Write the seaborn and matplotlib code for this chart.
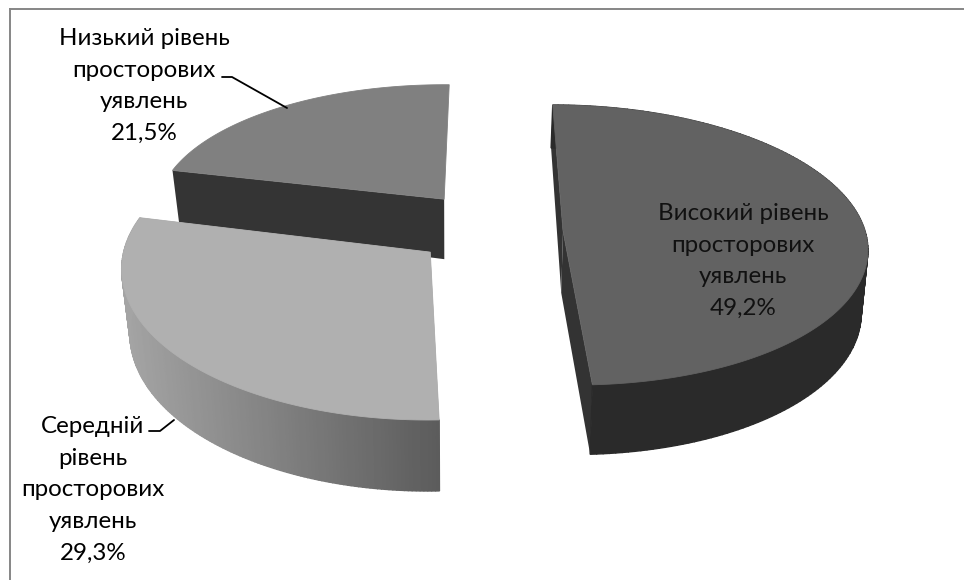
import numpy as np
import matplotlib
matplotlib.use("Agg")
import matplotlib.pyplot as plt
import seaborn as sns

# ---- data ----
categories = ["Високий рівень\nпросторових\nуявлень",
              "Середній\nрівень\nпросторових\nуявлень",
              "Низький рівень\nпросторових\nуявлень"]
values = [49.2, 29.3, 21.5]
value_labels = ["49,2%", "29,3%", "21,5%"]

# ---- styling ----
top_colors = ["#626262", "#b0b0b0", "#808080"]
cut_colors = ["#333333", "#8a8a8a", "#343434"]
wall_ramps = [["#2a2a2a", "#2a2a2a"], ["#a4a4a4", "#5c5c5c"], ["#333333", "#333333"]]
offsets = [(0.378, 0.0), (-0.065, -0.15), (-0.02, 0.235)]
radii_u = [1.01, 1.01, 0.978]
radii_v = [1.0, 1.05, 0.945]
rotations = [0.0, 1.0, 1.0]
lower_scale = [0.016, 0.025, 0.025]
cut_faces = [(0, -1), (0, -1), (0,)]
label_pos = [(743, 261), (93, 490), (144, 86)]
label_colors = ["#111111", "#000000", "#000000"]

sns.set_theme(style="white")
plt.rcParams["font.family"] = ["Lato", "Open Sans", "DejaVu Sans"]

VX, Y0, A, B, K = 450, 231, 299, 138.6, 0.1


def proj(u, v):
    s = 1 + K * v
    return VX + A * u / s, Y0 - B * v / s


def hgt(v):
    return np.interp(v, [-1.2, 0.235, 1.0], [71, 60, 43])


def lower(x, q):
    return VX + (x - VX) * (1 - q)


fig = plt.figure(figsize=(9.64, 5.8), dpi=100)
ax = fig.add_axes([10 / 964, 0, 954 / 964, 571 / 580])
ax.set_xlim(10, 964)
ax.set_ylim(580, 9)
ax.set_xticks([])
ax.set_yticks([])
for side in ("right", "bottom"):
    ax.spines[side].set_visible(False)
for side in ("left", "top"):
    ax.spines[side].set_visible(True)
    ax.spines[side].set_color("#868686")
    ax.spines[side].set_linewidth(1.4)

fractions = np.array(values) / sum(values)
edges = np.concatenate([[0], np.cumsum(fractions)]) * 2 * np.pi

for i in (2, 1, 0):
    th = np.linspace(edges[i], edges[i + 1], 160) + np.radians(rotations[i])
    ou, ov = offsets[i]
    u = ou + radii_u[i] * np.sin(th)
    v = ov + radii_v[i] * np.cos(th)
    x, y = proj(u, v)
    ax_, ay_ = proj(ou, ov)
    d = hgt(v)
    da = hgt(ov)
    xb = lower(x, lower_scale[i])
    yb = y + d
    axb, ayb = lower(ax_, lower_scale[i]), ay_ + da
    # cut faces
    for j in cut_faces[i]:
        ax.fill([ax_, x[j], xb[j], axb], [ay_, y[j], yb[j], ayb],
                color=cut_colors[i], lw=0)
    # outer wall with gradient along the arc
    if i != 2:
        ramp = sns.blend_palette(wall_ramps[i], n_colors=len(th) - 1)
        xs_min, xs_max = x.min(), x.max()
        for j in range(len(th) - 1):
            t = (x[j] - xs_min) / max(xs_max - xs_min, 1)
            c = ramp[int(t * (len(ramp) - 1))]
            ax.fill([x[j], x[j + 1], xb[j + 1], xb[j]],
                    [y[j], y[j + 1], yb[j + 1], yb[j]],
                    color=c, lw=1.0, ec=c)
    # top face
    ax.fill(np.r_[ax_, x], np.r_[ay_, y], color=top_colors[i], lw=0.6, ec=top_colors[i])

# leader lines
sns.lineplot(x=[222, 232, 287], y=[77, 77, 108], sort=False, estimator=None,
             color="black", lw=1.3, ax=ax)
sns.lineplot(x=[149, 160, 174], y=[431, 431, 420], sort=False, estimator=None,
             color="black", lw=1.3, ax=ax)

for cat, val, (lx, ly), col in zip(categories, value_labels, label_pos, label_colors):
    ax.text(lx, ly, f"{cat}\n{val}", ha="center", va="center", fontsize=17.4,
            color=col, linespacing=1.62)

fig.savefig("out.png", dpi=100)
